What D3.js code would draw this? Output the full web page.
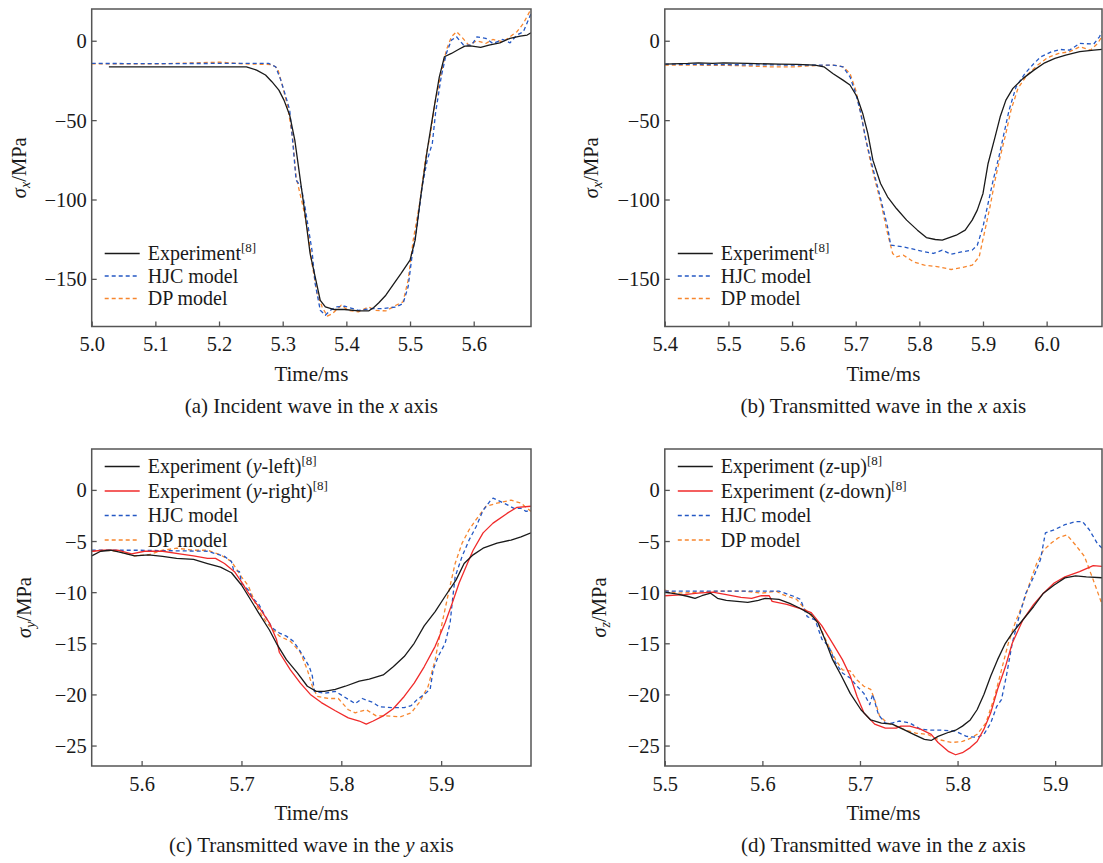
<!DOCTYPE html>
<html>
<head>
<meta charset="utf-8">
<script src="https://cdn.jsdelivr.net/npm/d3@7"></script>
<style>
  body { margin: 0; background: #fff; }
  svg text { font-family: 'Liberation Serif', 'Times New Roman', serif; }
  .tick text { font-size: 20.5px; fill: #1a1a1a; }
  .tick line { stroke: #555; stroke-width: 1.3; }
</style>
</head>
<body>
<svg id="chart" width="1103" height="863"></svg>
<script>
// ---- data: [time (ms), stress (MPa)] ----

// (a) incident wave, x axis
var aExperiment = [[5.027,-16.4],[5.243,-16.4],[5.259,-18.5],[5.273,-21.6],[5.283,-25.8],[5.294,-31.1],[5.302,-37.4],[5.311,-46.9],[5.319,-62.6],[5.327,-85.7],[5.335,-108.8],[5.343,-134],[5.351,-148.8],[5.359,-163.5],[5.367,-167.7],[5.381,-169.3],[5.397,-169.3],[5.419,-170.2],[5.435,-170.2],[5.443,-168],[5.451,-165],[5.462,-160.3],[5.473,-154],[5.486,-146.6],[5.5,-138.2],[5.508,-125.6],[5.516,-100.4],[5.527,-68.9],[5.538,-41.6],[5.546,-22.7],[5.554,-10.1],[5.565,-8],[5.576,-5.5],[5.586,-3.4],[5.595,-3.2],[5.611,-4.2],[5.624,-2.7],[5.641,-1.3],[5.657,1.5],[5.673,2.9],[5.684,3.6],[5.69,5]];
var aHJC = [[5.0,-14.3],[5.1,-14.4],[5.2,-14.3],[5.278,-14.3],[5.289,-16.4],[5.297,-24.8],[5.305,-35.3],[5.311,-43.7],[5.316,-64.7],[5.321,-87.8],[5.329,-92],[5.335,-104.6],[5.34,-117.2],[5.346,-132],[5.351,-153],[5.359,-169.8],[5.367,-172.9],[5.375,-169.8],[5.384,-167.7],[5.397,-167.2],[5.419,-169.8],[5.44,-168.7],[5.457,-168.7],[5.478,-167.7],[5.489,-165.6],[5.497,-155],[5.503,-136],[5.511,-117.2],[5.519,-92],[5.527,-75.2],[5.535,-64.7],[5.54,-45.8],[5.549,-22.7],[5.557,-8],[5.565,0.4],[5.573,2.5],[5.584,-2.7],[5.597,-2.7],[5.605,2.5],[5.619,1.5],[5.63,-1.7],[5.646,0.8],[5.657,-1.3],[5.668,3.6],[5.678,5.7],[5.69,17]];
var aDP = [[5.0,-14.5],[5.1,-14.6],[5.202,-13.5],[5.24,-14.6],[5.283,-15],[5.292,-17.4],[5.3,-29],[5.308,-41.6],[5.316,-62.6],[5.321,-85.7],[5.332,-104.6],[5.34,-121.4],[5.346,-140.3],[5.354,-159.3],[5.362,-167.7],[5.37,-173.5],[5.378,-171.9],[5.392,-166.6],[5.403,-169.8],[5.419,-170.8],[5.435,-167.7],[5.446,-169.8],[5.462,-170.2],[5.478,-166.6],[5.489,-164.5],[5.497,-150.9],[5.505,-125.6],[5.516,-100.4],[5.524,-75.2],[5.532,-58.4],[5.54,-37.4],[5.549,-20.6],[5.557,-5.9],[5.565,2.5],[5.573,5.7],[5.581,2.5],[5.592,-2.7],[5.605,0],[5.619,-1.7],[5.63,0.8],[5.646,-0.6],[5.668,5.7],[5.678,10.9],[5.69,20]];

// (b) transmitted wave, x axis
var bExperiment = [[5.4,-14.7],[5.436,-14.3],[5.453,-13.9],[5.475,-14.3],[5.492,-13.9],[5.53,-14.3],[5.58,-14.7],[5.608,-14.9],[5.636,-15.3],[5.65,-16.4],[5.664,-20.6],[5.68,-24.8],[5.691,-27.9],[5.702,-35.3],[5.711,-45.8],[5.719,-58.4],[5.727,-75.2],[5.739,-89.9],[5.75,-98.3],[5.764,-105.7],[5.78,-113],[5.797,-119.3],[5.811,-124],[5.825,-125.2],[5.836,-125.6],[5.847,-124],[5.858,-122.5],[5.872,-119.3],[5.883,-113],[5.891,-106.7],[5.9,-96.2],[5.908,-77.3],[5.919,-60.5],[5.927,-47.9],[5.936,-37.4],[5.947,-30],[5.963,-23.7],[5.98,-18.5],[5.997,-13.9],[6.013,-11.1],[6.03,-9],[6.052,-6.9],[6.074,-5.9],[6.09,-5.3]];
var bHJC = [[5.4,-14.7],[5.5,-15.1],[5.608,-15.3],[5.664,-15.3],[5.68,-16.4],[5.691,-22.7],[5.7,-33.2],[5.708,-45.8],[5.716,-62.6],[5.725,-77.3],[5.733,-89.9],[5.741,-102.5],[5.75,-117.2],[5.755,-128.8],[5.775,-129.8],[5.802,-132.4],[5.822,-134],[5.836,-131.9],[5.85,-134.5],[5.866,-133],[5.883,-131.9],[5.891,-128.8],[5.9,-117.2],[5.908,-102.5],[5.916,-87.8],[5.925,-73.1],[5.933,-58.4],[5.941,-43.7],[5.952,-29],[5.966,-20.6],[5.98,-14.3],[5.991,-10.1],[6.008,-6.9],[6.022,-5.5],[6.036,-5.9],[6.052,-1.7],[6.074,-2.1],[6.083,2.5],[6.09,7.8]];
var bDP = [[5.4,-15.3],[5.5,-15.5],[5.57,-16.5],[5.603,-16.4],[5.63,-15.8],[5.664,-15.3],[5.68,-16.4],[5.691,-20.6],[5.7,-31.1],[5.708,-45.8],[5.716,-62.6],[5.725,-79.4],[5.733,-92],[5.741,-104.6],[5.75,-121.4],[5.758,-134],[5.764,-136.1],[5.775,-135.1],[5.791,-139.3],[5.808,-141.4],[5.83,-142.4],[5.85,-144.1],[5.866,-142.9],[5.883,-141.4],[5.894,-136.1],[5.902,-121.4],[5.911,-104.6],[5.919,-87.8],[5.927,-73.1],[5.936,-58.4],[5.944,-43.7],[5.955,-30],[5.969,-21.6],[5.986,-15.3],[6.002,-10.5],[6.019,-8],[6.036,-6.9],[6.052,-3.8],[6.069,-5.9],[6.08,-1.7],[6.09,4.6]];

// (c) transmitted wave, y axis
var cLeft = [[5.55,-6.45],[5.559,-6.0],[5.569,-5.9],[5.579,-6.1],[5.593,-6.45],[5.607,-6.35],[5.621,-6.5],[5.635,-6.7],[5.652,-6.8],[5.666,-7.2],[5.679,-7.55],[5.69,-8.1],[5.7,-9.3],[5.707,-10.4],[5.717,-12],[5.728,-13.7],[5.735,-15],[5.745,-16.6],[5.756,-17.9],[5.766,-19.2],[5.775,-19.7],[5.783,-19.7],[5.794,-19.5],[5.804,-19.2],[5.818,-18.7],[5.828,-18.5],[5.842,-18.1],[5.852,-17.3],[5.863,-16.3],[5.873,-15],[5.883,-13.3],[5.894,-11.9],[5.904,-10.4],[5.915,-8.8],[5.923,-7.2],[5.932,-6.35],[5.942,-5.7],[5.956,-5.2],[5.97,-4.9],[5.98,-4.6],[5.99,-4.2]];
var cRight = [[5.55,-6.0],[5.562,-5.9],[5.576,-5.9],[5.59,-6.25],[5.603,-6.0],[5.621,-6.0],[5.638,-6.25],[5.652,-6.45],[5.666,-6.7],[5.674,-6.7],[5.683,-7.2],[5.693,-8],[5.7,-9],[5.707,-10.1],[5.717,-11.4],[5.728,-13],[5.735,-14.6],[5.738,-15.9],[5.749,-17.6],[5.759,-18.9],[5.769,-20],[5.78,-20.8],[5.794,-21.6],[5.807,-22.3],[5.818,-22.6],[5.825,-22.9],[5.832,-22.6],[5.842,-22.1],[5.852,-21.4],[5.863,-20.2],[5.873,-18.9],[5.883,-17.3],[5.894,-15.3],[5.904,-13],[5.911,-11.1],[5.918,-9.1],[5.925,-7.5],[5.932,-5.9],[5.942,-4.2],[5.952,-3.25],[5.966,-2.3],[5.976,-1.7],[5.99,-1.6]];
var cHJC = [[5.55,-5.9],[5.597,-5.9],[5.666,-6.0],[5.683,-6.5],[5.69,-7.0],[5.692,-7.8],[5.698,-8.0],[5.7,-9.1],[5.707,-9.8],[5.711,-10.6],[5.717,-11.1],[5.724,-12.4],[5.731,-13.5],[5.738,-14],[5.745,-14.3],[5.752,-14.8],[5.759,-15.8],[5.768,-17.3],[5.771,-18.2],[5.773,-19.7],[5.783,-19.9],[5.794,-19.7],[5.804,-20.3],[5.814,-20.9],[5.821,-20.4],[5.832,-20.8],[5.838,-21.2],[5.852,-21.3],[5.863,-21.3],[5.87,-21.1],[5.876,-20.5],[5.883,-20],[5.889,-19.5],[5.892,-17.6],[5.897,-16.3],[5.904,-15],[5.909,-13],[5.911,-11.1],[5.914,-8.5],[5.921,-6.5],[5.928,-4.9],[5.935,-3.6],[5.942,-2],[5.949,-1.1],[5.952,-0.8],[5.963,-1.3],[5.973,-1.8],[5.98,-1.8],[5.985,-2.1],[5.99,-2]];
var cDP = [[5.55,-6.0],[5.562,-5.9],[5.576,-6.0],[5.593,-6.45],[5.607,-6.35],[5.621,-5.9],[5.635,-5.7],[5.652,-5.9],[5.666,-5.9],[5.679,-6.35],[5.69,-7],[5.7,-8.5],[5.707,-9.4],[5.714,-11.1],[5.721,-12.4],[5.728,-13.3],[5.738,-14.3],[5.749,-14.8],[5.759,-15.9],[5.766,-17.6],[5.771,-19.2],[5.776,-20.2],[5.787,-20.4],[5.797,-20.4],[5.807,-21.5],[5.814,-21.8],[5.825,-21.5],[5.835,-22.1],[5.845,-22.1],[5.859,-22.2],[5.87,-21.8],[5.878,-20.8],[5.887,-19.2],[5.894,-16.6],[5.901,-13],[5.908,-9.8],[5.914,-7.2],[5.921,-5.2],[5.928,-3.9],[5.935,-2.9],[5.945,-1.6],[5.956,-1.3],[5.97,-1.0],[5.98,-1.3],[5.99,-2.1]];

// (d) transmitted wave, z axis
var dUp = [[5.5,-10.0],[5.513,-10.2],[5.523,-10.4],[5.531,-10.6],[5.538,-10.35],[5.547,-10.1],[5.554,-10.6],[5.563,-10.8],[5.574,-10.9],[5.585,-11],[5.596,-10.8],[5.603,-10.6],[5.617,-10.7],[5.628,-11.1],[5.639,-11.6],[5.65,-12.2],[5.657,-13],[5.664,-14.6],[5.672,-16.6],[5.681,-18.2],[5.69,-19.9],[5.701,-21.5],[5.711,-22.5],[5.722,-22.8],[5.733,-22.9],[5.744,-23.4],[5.755,-23.9],[5.766,-24.4],[5.773,-24.5],[5.78,-24.1],[5.791,-23.7],[5.798,-23.5],[5.805,-23.1],[5.813,-22.5],[5.82,-21.5],[5.827,-20],[5.834,-18.2],[5.841,-16.6],[5.849,-15],[5.856,-14],[5.867,-12.7],[5.878,-11.4],[5.888,-10.1],[5.899,-9.3],[5.91,-8.6],[5.921,-8.4],[5.932,-8.5],[5.95,-8.6]];
var dDown = [[5.5,-10.35],[5.52,-10.25],[5.534,-10.1],[5.549,-10],[5.563,-10.25],[5.578,-10.5],[5.589,-10.6],[5.599,-10.35],[5.607,-10.35],[5.61,-10.9],[5.625,-11.2],[5.639,-11.6],[5.65,-12],[5.661,-13.3],[5.672,-15],[5.682,-16.6],[5.69,-18.2],[5.697,-20.2],[5.704,-21.8],[5.715,-22.9],[5.726,-23.3],[5.737,-23.3],[5.742,-23.1],[5.751,-23.1],[5.762,-23.4],[5.773,-23.9],[5.78,-24.7],[5.791,-25.6],[5.798,-25.9],[5.805,-25.7],[5.813,-25.2],[5.82,-24.6],[5.827,-23.4],[5.834,-21.8],[5.841,-19.5],[5.849,-17.3],[5.856,-15],[5.867,-12.7],[5.878,-11.2],[5.888,-10.1],[5.899,-9.1],[5.91,-8.5],[5.925,-8],[5.939,-7.4],[5.95,-7.5]];
var dHJC = [[5.5,-9.9],[5.545,-9.9],[5.599,-9.9],[5.617,-9.9],[5.632,-10.4],[5.639,-10.7],[5.646,-12.4],[5.654,-12.7],[5.661,-14.6],[5.668,-15.3],[5.675,-16.9],[5.682,-17.9],[5.69,-18.4],[5.697,-19.2],[5.704,-19.9],[5.71,-21],[5.713,-20],[5.719,-22],[5.726,-22.8],[5.733,-22.8],[5.74,-22.6],[5.751,-22.8],[5.762,-23.4],[5.773,-23.5],[5.784,-23.5],[5.798,-23.6],[5.809,-24.1],[5.82,-24.2],[5.827,-23.9],[5.834,-22.8],[5.84,-21.2],[5.845,-20.5],[5.85,-18.2],[5.856,-15],[5.863,-12.4],[5.87,-10.1],[5.878,-8.5],[5.885,-6.8],[5.89,-4.2],[5.899,-3.9],[5.91,-3.4],[5.921,-3.1],[5.928,-3.1],[5.935,-3.9],[5.943,-5.2],[5.95,-5.9]];
var dDP = [[5.5,-9.8],[5.513,-10.1],[5.534,-10],[5.556,-9.9],[5.581,-9.9],[5.599,-10.1],[5.614,-9.9],[5.621,-10.25],[5.635,-10.7],[5.646,-11.9],[5.657,-13],[5.668,-15.3],[5.675,-16.6],[5.682,-17.6],[5.69,-17.7],[5.697,-18.6],[5.704,-19.2],[5.711,-19.5],[5.715,-20.5],[5.72,-22.1],[5.728,-22.8],[5.737,-23.1],[5.747,-23.5],[5.758,-23.8],[5.769,-23.9],[5.78,-24.4],[5.794,-24.7],[5.805,-24.6],[5.813,-24.3],[5.82,-23.9],[5.829,-22.8],[5.838,-20.2],[5.845,-17.6],[5.852,-15],[5.859,-13],[5.867,-11.1],[5.874,-9.1],[5.881,-7.2],[5.888,-5.9],[5.896,-5.2],[5.903,-4.7],[5.912,-4.4],[5.921,-5.4],[5.93,-6.5],[5.939,-8.8],[5.95,-11.7]];

// tick values
var xTicksA = [5.0, 5.1, 5.2, 5.3, 5.4, 5.5, 5.6];
var xTicksB = [5.4, 5.5, 5.6, 5.7, 5.8, 5.9, 6.0];
var xTicksC = [5.6, 5.7, 5.8, 5.9];
var xTicksD = [5.5, 5.6, 5.7, 5.8, 5.9];
var yTicksAB = [0, -50, -100, -150];
var yTicksCD = [0, -5, -10, -15, -20, -25];

// ---- styles ----
var BLACK = "#1a1a1a", RED = "#f02a2a", BLUE = "#2458c4", ORANGE = "#f7862e";

var sup8 = {t: "[8]", sup: true};
var hjcEntry = {color: BLUE, dash: true, label: [{t: "HJC model"}]};
var dpEntry  = {color: ORANGE, dash: true, label: [{t: "DP model"}]};

var panels = [
  { box: [91.7, 9, 531, 326.5], xDomain: [5.0, 5.69], yDomain: [-180, 20],
    xTicks: xTicksA, yTicks: yTicksAB, sub: "x", ylabX: 26, legendY: 253.5, legendStep: 22.5,
    caption: [{t: "(a) Incident wave in the "}, {t: "x", i: true}, {t: " axis"}],
    series: [
      {data: aExperiment, color: BLACK, label: [{t: "Experiment"}, sup8]},
      Object.assign({data: aHJC}, hjcEntry),
      Object.assign({data: aDP}, dpEntry)
    ] },
  { box: [664.8, 9, 1102, 326.5], xDomain: [5.4, 6.087], yDomain: [-180, 20],
    xTicks: xTicksB, yTicks: yTicksAB, sub: "x", ylabX: 598, legendY: 253.5, legendStep: 22.5,
    caption: [{t: "(b) Transmitted wave in the "}, {t: "x", i: true}, {t: " axis"}],
    series: [
      {data: bExperiment, color: BLACK, label: [{t: "Experiment"}, sup8]},
      Object.assign({data: bHJC}, hjcEntry),
      Object.assign({data: bDP}, dpEntry)
    ] },
  { box: [91.7, 449, 531, 766], xDomain: [5.55, 5.99], yDomain: [-27, 4],
    xTicks: xTicksC, yTicks: yTicksCD, sub: "y", ylabX: 31, legendY: 466.5, legendStep: 24.5,
    caption: [{t: "(c) Transmitted wave in the "}, {t: "y", i: true}, {t: " axis"}],
    series: [
      {data: cLeft, color: BLACK, label: [{t: "Experiment ("}, {t: "y", i: true}, {t: "-left)"}, sup8]},
      {data: cRight, color: RED, label: [{t: "Experiment ("}, {t: "y", i: true}, {t: "-right)"}, sup8]},
      Object.assign({data: cHJC}, hjcEntry),
      Object.assign({data: cDP}, dpEntry)
    ] },
  { box: [664.8, 449, 1102, 766], xDomain: [5.5, 5.948], yDomain: [-27, 4],
    xTicks: xTicksD, yTicks: yTicksCD, sub: "z", ylabX: 606, legendY: 466.5, legendStep: 24.5,
    caption: [{t: "(d) Transmitted wave in the "}, {t: "z", i: true}, {t: " axis"}],
    series: [
      {data: dUp, color: BLACK, label: [{t: "Experiment ("}, {t: "z", i: true}, {t: "-up)"}, sup8]},
      {data: dDown, color: RED, label: [{t: "Experiment ("}, {t: "z", i: true}, {t: "-down)"}, sup8]},
      Object.assign({data: dHJC}, hjcEntry),
      Object.assign({data: dDP}, dpEntry)
    ] }
];

var svg = d3.select("#chart");

// write a list of text pieces (italic / superscript) into a text element
function addPieces(textSel, pieces) {
  var raised = false;
  pieces.forEach(function(p) {
    var ts = textSel.append("tspan").text(p.t);
    if (p.i) ts.attr("font-style", "italic");
    if (p.sup) { ts.attr("font-size", 13).attr("dy", -8); raised = true; }
    else if (raised) { ts.attr("dy", 8); raised = false; }
  });
}

panels.forEach(function(p, k) {
  var x0 = p.box[0], y0 = p.box[1], x1 = p.box[2], y1 = p.box[3];
  var w = x1 - x0, h = y1 - y0;
  var g = svg.append("g").attr("transform", "translate(" + x0 + "," + y0 + ")");

  var x = d3.scaleLinear().domain(p.xDomain).range([0, w]);
  var y = d3.scaleLinear().domain(p.yDomain).range([h, 0]);

  g.append("clipPath").attr("id", "clip" + k)
    .append("rect").attr("width", w).attr("height", h);

  // axes, ticks point inward
  g.append("g").attr("transform", "translate(0," + h + ")")
    .call(d3.axisBottom(x).tickValues(p.xTicks).tickFormat(d3.format(".1f"))
      .tickSizeInner(-5).tickSizeOuter(0).tickPadding(10))
    .call(function(s) { s.select(".domain").remove(); });

  g.append("g")
    .call(d3.axisLeft(y).tickValues(p.yTicks)
      .tickSizeInner(-5).tickSizeOuter(0).tickPadding(5))
    .call(function(s) { s.select(".domain").remove(); })
    .selectAll("text").attr("dy", "0.34em");

  // curves
  var line = d3.line().x(function(d) { return x(d[0]); }).y(function(d) { return y(d[1]); });
  var curves = g.append("g").attr("clip-path", "url(#clip" + k + ")");
  p.series.slice().reverse().forEach(function(s) {
    curves.append("path")
      .datum(s.data)
      .attr("d", line)
      .attr("fill", "none")
      .attr("stroke", s.color)
      .attr("stroke-width", 1.3)
      .attr("stroke-dasharray", s.dash ? "4,3" : null)
      .attr("stroke-linejoin", "round");
  });

  // frame
  g.append("rect").attr("width", w).attr("height", h)
    .attr("fill", "none").attr("stroke", "#555").attr("stroke-width", 1.5);

  // legend
  var leg = g.append("g").attr("transform", "translate(13," + (p.legendY - y0) + ")");
  p.series.forEach(function(s, i) {
    var row = leg.append("g").attr("transform", "translate(0," + (i * p.legendStep) + ")");
    row.append("line").attr("x1", 0).attr("x2", 35).attr("y1", 0).attr("y2", 0)
      .attr("stroke", s.color).attr("stroke-width", 1.3)
      .attr("stroke-dasharray", s.dash ? "4,3" : null);
    var t = row.append("text").attr("x", 43).attr("y", 6.5)
      .attr("font-size", 20).attr("fill", BLACK);
    addPieces(t, s.label);
  });

  // x axis title
  g.append("text").attr("x", w / 2).attr("y", h + 54)
    .attr("text-anchor", "middle").attr("font-size", 21).attr("fill", BLACK)
    .text("Time/ms");

  // caption
  var cap = g.append("text").attr("x", w / 2).attr("y", h + 86)
    .attr("text-anchor", "middle").attr("font-size", 21).attr("fill", BLACK);
  addPieces(cap, p.caption);

  // y axis title
  var yl = svg.append("text")
    .attr("transform", "translate(" + p.ylabX + "," + (y0 + h / 2) + ") rotate(-90)")
    .attr("text-anchor", "middle").attr("font-size", 20.5).attr("fill", BLACK);
  yl.append("tspan").attr("font-style", "italic").text("σ");
  yl.append("tspan").attr("font-style", "italic").attr("font-size", 14).attr("dy", 4).text(p.sub);
  yl.append("tspan").attr("dy", -4).text("/MPa");
});
</script>
</body>
</html>
